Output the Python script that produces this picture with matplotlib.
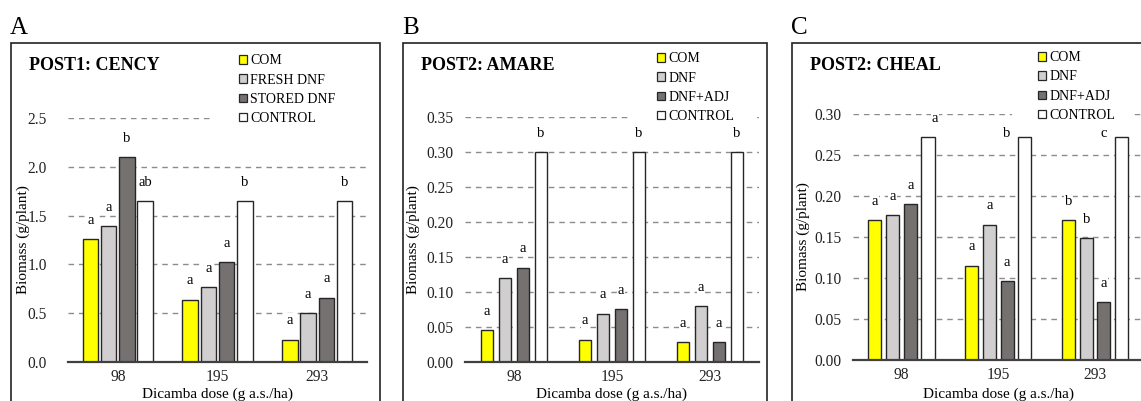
import matplotlib
matplotlib.use('Agg')
import matplotlib.pyplot as plt
from matplotlib.patches import Patch, Rectangle
from matplotlib.ticker import FormatStrFormatter, MultipleLocator
import numpy as np

plt.rcParams['font.family'] = ['Liberation Serif', 'DejaVu Serif']

W, H = 1141, 401

# data
doses = ['98', '195', '293']
a_names = ['COM', 'FRESH DNF', 'STORED DNF', 'CONTROL']
bc_names = ['COM', 'DNF', 'DNF+ADJ', 'CONTROL']

a_com = [1.26, 0.64, 0.23]
a_fresh = [1.39, 0.77, 0.50]
a_stored = [2.10, 1.02, 0.66]
a_control = [1.65, 1.65, 1.65]
a_letters = [['a', 'a', 'a'], ['a', 'a', 'a'], ['b', 'a', 'a'], ['ab', 'b', 'b']]

b_com = [0.046, 0.032, 0.028]
b_dnf = [0.120, 0.069, 0.080]
b_adj = [0.135, 0.076, 0.028]
b_control = [0.300, 0.300, 0.300]
b_letters = [['a', 'a', 'a'], ['a', 'a', 'a'], ['a', 'a', 'a'], ['b', 'b', 'b']]

c_com = [0.171, 0.115, 0.171]
c_dnf = [0.177, 0.165, 0.149]
c_adj = [0.190, 0.096, 0.071]
c_control = [0.272, 0.272, 0.272]
c_letters = [['a', 'a', 'b'], ['a', 'a', 'b'], ['a', 'a', 'a'], ['a', 'b', 'c']]

colors = ['#FFFF00', '#D0CECE', '#767171', '#FFFFFF']
edge = '#262626'

# petits decalages (points) des lettres placees a la main dans l'original
c_nudge = {(3, 0): (5, 0), (3, 1): (-13, -11), (3, 2): (-13, -11)}


def fx(x):
    return x / W


def fy(y):
    return 1 - y / H


def panel(fig, letter, title, names, series, letters, box, ax_px, ylim, step,
          fmt, width, tickpad, ylab_x, leg_px, leg_w, nudge=None):
    nudge = nudge or {}
    # cadre du panneau
    x0, x1, y0 = box
    fig.add_artist(Rectangle((fx(x0), fy(410)), fx(x1 - x0), (410 - y0) / H,
                             transform=fig.transFigure, fill=False,
                             edgecolor='#222222', lw=1.2, zorder=20, clip_on=False))
    fig.text(fx(x0 - 1), fy(28), letter, fontsize=18, ha='left', va='center')

    l, r, t, b = ax_px
    ax = fig.add_axes([fx(l), fy(b), fx(r - l), (b - t) / H])
    x = np.arange(len(doses))
    n = len(series)
    gap = 0.183
    for i, vals in enumerate(series):
        xs = x + (i - (n - 1) / 2) * gap
        ax.bar(xs, vals, width, color=colors[i], edgecolor=edge, lw=1.0,
               zorder=2)
        for j, (xi, v, s) in enumerate(zip(xs, vals, letters[i])):
            dx, dy = nudge.get((i, j), (0, 0))
            ax.annotate(s, (xi, v), xytext=(dx, 13.5 + dy),
                        textcoords='offset points',
                        ha='center', va='center', fontsize=10.5, zorder=6,
                        bbox=dict(facecolor='white', edgecolor='none', pad=0.8))

    ax.set_xlim(-0.5, len(doses) - 0.5)
    ax.set_ylim(*ylim)
    ax.yaxis.set_major_locator(MultipleLocator(step))
    ax.yaxis.set_major_formatter(FormatStrFormatter(fmt))
    ax.set_xticks(x)
    ax.set_xticklabels(doses)
    ax.tick_params(axis='both', length=0, labelsize=11.2, colors='#222222')
    ax.tick_params(axis='x', pad=5)
    ax.tick_params(axis='y', pad=tickpad)
    for s in ['left', 'right', 'top']:
        ax.spines[s].set_visible(False)
    ax.spines['bottom'].set_color('#404040')
    ax.spines['bottom'].set_linewidth(1.6)
    ax.spines['bottom'].set_zorder(5)
    ax.set_axisbelow(True)
    ax.yaxis.grid(True, color='#8c8c8c', lw=1.0, dashes=(4, 3.5))
    ax.patch.set_alpha(0)

    ax.set_ylabel('Biomass (g/plant)', fontsize=11, va='center')
    ax.yaxis.set_label_coords((ylab_x - l) / (r - l), 0.5)
    ax.set_xlabel('Dicamba dose (g a.s./ha)', fontsize=11, va='center')
    ax.xaxis.set_label_coords(0.5, -(394 - b) / (b - t))

    fig.text(fx(x0 + 18), fy(65), title, fontsize=13, fontweight='bold',
             ha='left', va='center')

    handles = [Patch(facecolor=c, edgecolor=edge, lw=0.9) for c in colors]
    lx, ly = leg_px
    leg = ax.legend(handles, names, loc='upper left', mode='expand',
                    bbox_to_anchor=(fx(lx - 26), fy(ly - 32), fx(leg_w), 0),
                    bbox_transform=fig.transFigure, fontsize=10, frameon=True,
                    fancybox=False, borderpad=1.9, borderaxespad=0,
                    handlelength=0.55, handleheight=0.55, handletextpad=0.25,
                    labelspacing=0.44)
    leg.get_frame().set_edgecolor('none')
    leg.get_frame().set_facecolor('white')
    leg.get_frame().set_alpha(1)
    leg.set_zorder(1.5)
    return ax


fig = plt.figure(figsize=(W / 100, H / 100), dpi=100)

panel(fig, 'A', 'POST1: CENCY', a_names,
      [a_com, a_fresh, a_stored, a_control], a_letters,
      (11, 380, 43), (68, 367, 118, 362), (0, 2.5), 0.5, '%.1f', 0.155,
      15, 23, (239, 60), 160)

panel(fig, 'B', 'POST2: AMARE', bc_names,
      [b_com, b_dnf, b_adj, b_control], b_letters,
      (403, 767, 43), (465, 759, 117, 362), (0, 0.35), 0.05, '%.2f', 0.13,
      8.5, 413, (657, 58), 124)

panel(fig, 'C', 'POST2: CHEAL', bc_names,
      [c_com, c_dnf, c_adj, c_control], c_letters,
      (792, 1160, 43), (853, 1143.5, 114, 360), (0, 0.30), 0.05, '%.2f', 0.135,
      8.5, 803, (1038, 57), 120, c_nudge)

fig.savefig('out.png', dpi=100)
